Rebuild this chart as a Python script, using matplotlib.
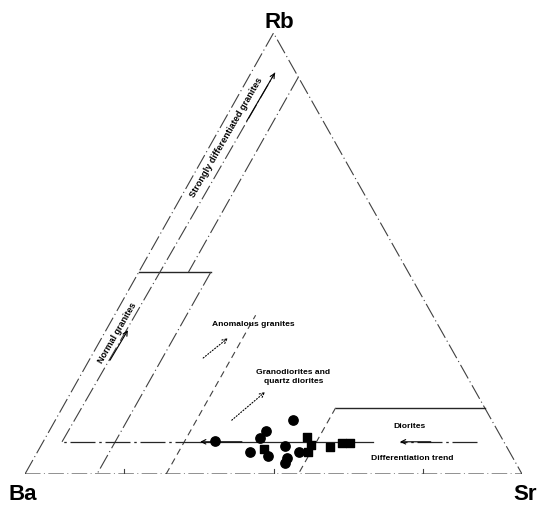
import numpy as np
import matplotlib.pyplot as plt

# sample compositions, fractions of Rb and Sr (Ba = 1 - Rb - Sr)
circ_rb = [0.075, 0.122, 0.098, 0.082, 0.050, 0.041, 0.064, 0.036, 0.025, 0.050]
circ_sr = [0.345, 0.478, 0.436, 0.432, 0.428, 0.469, 0.491, 0.509, 0.511, 0.526]
sq_rb = [0.057, 0.084, 0.066, 0.050, 0.061, 0.070, 0.070]
sq_sr = [0.453, 0.525, 0.543, 0.544, 0.583, 0.603, 0.619]

# field boundaries as (Rb, Sr) pairs
triangle = [(0, 0), (0, 1), (1, 0), (0, 0)]
normal_top = [(0.458, 0.0), (0.458, 0.145)]
normal_right = [(0.458, 0.145), (0.0, 0.145)]
strong_inner = [(0.90, 0.10), (0.458, 0.10)]
anomal_line = [(0.0, 0.284), (0.36, 0.284)]
diorite_top = [(0.15, 0.55), (0.15, 0.85)]
diorite_left = [(0.15, 0.55), (0.0, 0.55)]
trend_left = [(0.073, 0.664), (0.073, 0.316)]
trend_left_dash = [(0.073, 0.316), (0.073, 0.038)]
trend_right = [(0.073, 0.873), (0.073, 0.718)]
trend_up = [(0.073, 0.038), (0.91, 0.048)]
dots_anom = [(0.263, 0.227), (0.308, 0.254)]
dots_grano = [(0.122, 0.355), (0.186, 0.390)]
base_ticks = [0.2, 0.5, 0.8]

H = np.sqrt(3) / 2


def tern(rb, sr):
    rb = np.asarray(rb, dtype=float)
    sr = np.asarray(sr, dtype=float)
    return sr + rb / 2, rb * H


def line(pts, **kw):
    rb, sr = zip(*pts)
    x, y = tern(rb, sr)
    ax.plot(x, y, **kw)


def arrow(p0, p1, ls="-"):
    x0, y0 = tern(*p0)
    x1, y1 = tern(*p1)
    ax.annotate("", xy=(x1, y1), xytext=(x0, y0),
                arrowprops=dict(arrowstyle="->", lw=0.8, color="black",
                                linestyle=ls, mutation_scale=8,
                                shrinkA=0, shrinkB=0))


fig = plt.figure(figsize=(5.4, 5.08), dpi=100)
ax = fig.add_axes([25 / 540, 34 / 508, 497 / 540, 441 / 508])
ax.set_xlim(0, 1)
ax.set_ylim(0, H)
ax.axis("off")

dashdot = (0, (14, 3, 1, 3))
line(triangle, color="0.25", lw=0.8, ls=dashdot)
line(normal_top, color="0.15", lw=1.0)
line(normal_right, color="0.25", lw=0.8, ls=dashdot)
line(strong_inner, color="0.25", lw=0.8, ls=dashdot)
line(anomal_line, color="0.25", lw=0.8, ls=(0, (6, 4)))
line(diorite_top, color="0.15", lw=1.0)
line(diorite_left, color="0.25", lw=0.8, ls=(0, (6, 4)))
line(trend_left, color="0.15", lw=0.9)
line(trend_left_dash, color="0.15", lw=0.9, ls=(0, (20, 3, 2, 3)))
line(trend_right, color="0.15", lw=0.9, ls=(0, (20, 3, 2, 3)))
line(trend_up, color="0.25", lw=0.8, ls=dashdot)

# small ticks on the Ba-Sr side
for t in base_ticks:
    x, y = tern([0, 0.012], [t, t - 0.006])
    ax.plot(x, y, color="0.25", lw=0.8)

# arrowheads
arrow((0.073, 0.40), (0.073, 0.316))
arrow((0.073, 0.78), (0.073, 0.718))
arrow((0.80, 0.046), (0.91, 0.048))
arrow((0.258, 0.042), (0.326, 0.044))
arrow(dots_anom[0], dots_anom[1], ls=":")
arrow(dots_grano[0], dots_grano[1], ls=":")

# data
cx, cy = tern(circ_rb, circ_sr)
ax.scatter(cx, cy, s=45, marker="o", color="black", zorder=5)
sx, sy = tern(sq_rb, sq_sr)
ax.scatter(sx, sy, s=40, marker="s", color="black", zorder=5)

# corner labels
lab = dict(fontsize=16, fontweight="bold", family="Liberation Sans",
           ha="center", va="center")
fig.text(23 / 540, 1 - 495 / 508, "Ba", **lab)
fig.text(525 / 540, 1 - 495 / 508, "Sr", **lab)
fig.text(279 / 540, 1 - 22 / 508, "Rb", **lab)

# field names
small = dict(fontsize=6.1, fontweight="bold", family="Liberation Sans",
             ha="center", va="center")
x, y = tern(0.764, 0.024)
ax.text(x, y, "Strongly differentiated granites", rotation=60,
        **{**small, "fontsize": 6.6})
x, y = tern(0.32, 0.025)
ax.text(x, y, "Normal granites", rotation=60, **{**small, "fontsize": 6.5})
x, y = tern(0.34, 0.29)
ax.text(x, y, "Anomalous granites", **small)
x, y = tern(0.22, 0.43)
ax.text(x, y, "Granodiorites and\nquartz diorites", linespacing=1.3, **small)
x, y = tern(0.107, 0.72)
ax.text(x, y, "Diorites", **small)
x, y = tern(0.036, 0.762)
ax.text(x, y, "Differentiation trend", **small)

plt.savefig("out.png", dpi=100)
